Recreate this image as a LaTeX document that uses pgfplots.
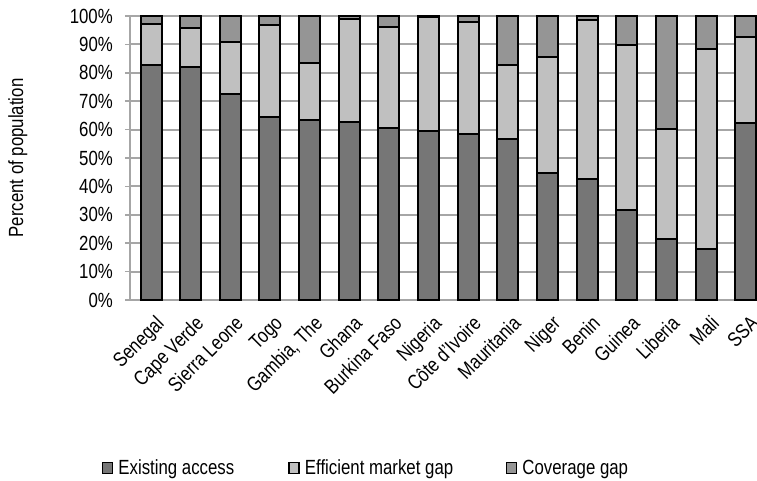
\documentclass[border=0pt]{standalone}
\usepackage{pgfplots}
\pgfplotsset{compat=1.18}
\usepackage{fontspec}
\setmainfont{Liberation Sans}[FakeStretch=0.82]
\definecolor{darkbar}{HTML}{767676}
\definecolor{lightbar}{HTML}{C0C0C0}
\definecolor{covbar}{HTML}{959595}
\definecolor{gridgray}{HTML}{A6A6A6}
\pgfplotstableread{
x exist eff cov
0  82.6 14.5 2.9
1  82.0 13.6 4.4
2  72.7 18.1 9.2
3  64.6 32.1 3.3
4  63.4 19.9 16.7
5  62.6 36.2 1.2
6  60.4 35.7 3.9
7  59.5 40.2 0.3
8  58.3 39.7 2.0
9  56.6 26.1 17.3
10 44.6 41.1 14.3
11 42.6 55.9 1.5
12 31.7 58.1 10.2
13 21.5 38.7 39.8
14 17.8 70.7 11.5
15 62.2 30.5 7.3
}\data
\newcommand{\lab}{\fontsize{20.5}{23}\selectfont}
\begin{document}
\begin{tikzpicture}
\useasboundingbox (0pt,0pt) rectangle (757pt,480pt);
\begin{axis}[
  at={(130pt,180pt)}, anchor=south west,
  scale only axis, width=627pt, height=284pt,
  ybar stacked, bar width=21pt,
  xmin=-0.53, xmax=15.28, ymin=0, ymax=100,
  axis x line*=bottom, axis y line*=left,
  axis line style={draw=gridgray, line width=2pt, -},
  ymajorgrids, grid style={draw=gridgray, line width=2pt},
  ytick={0,10,...,100},
  yticklabel={\pgfmathprintnumber{\tick}\%},
  /pgf/number format/assume math mode=true,
  tick align=outside,
  major tick length=5pt,
  ytick style={draw=gridgray, line width=1.5pt},
  xtick style={draw=none},
  xtick=data,
  xticklabels={Senegal,Cape Verde,Sierra Leone,Togo,{Gambia, The},Ghana,Burkina Faso,Nigeria,Côte d'Ivoire,Mauritania,Niger,Benin,Guinea,Liberia,Mali,SSA},
  xticklabel style={rotate=45, anchor=north east, font=\lab, inner sep=0pt, xshift=-4pt, yshift=-9pt},
  yticklabel style={font=\lab, anchor=east, inner sep=0pt, xshift=-12pt},
  ylabel={Percent of population},
  ylabel style={font=\lab, at={(axis description cs:-0.179,0.5)}, anchor=center},
  legend columns=3,
  legend style={draw=none, at={(axis description cs:-0.0447,-0.592)}, anchor=west,
    font=\lab, inner sep=0pt, outer sep=0pt, nodes={inner sep=0pt, outer sep=0pt},
    /tikz/every odd column/.append style={column sep=5pt}},
  legend image code/.code={\draw[#1, draw=black, line width=1.5pt] (0pt,-5.5pt) rectangle (10pt,5.5pt);},
  every axis plot/.append style={draw=black, line width=2pt},
  clip=false,
]
\addplot[fill=darkbar] table[x=x, y=exist] {\data};
\addplot[fill=lightbar] table[x=x, y=eff] {\data};
\addplot[fill=covbar] table[x=x, y=cov] {\data};
\addlegendentry{\makebox[170pt][l]{Existing access}}
\addlegendentry{\makebox[201pt][l]{Efficient market gap}}
\addlegendentry{Coverage gap}
\end{axis}
\end{tikzpicture}
\end{document}
